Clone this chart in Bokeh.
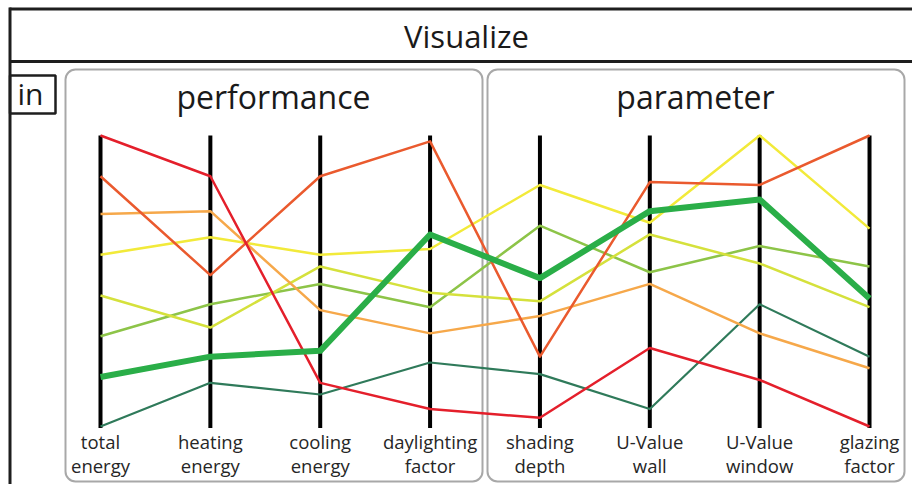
from bokeh.plotting import figure
from bokeh.models import Range1d
from bokeh.core.properties import value
from bokeh.embed import file_html
from bokeh.resources import INLINE

# ---------------- data ----------------
axis_line1 = ["total", "heating", "cooling", "daylighting", "shading", "U-Value", "U-Value", "glazing"]
axis_line2 = ["energy", "energy", "energy", "factor", "depth", "wall", "window", "factor"]
axis_index = [0, 1, 2, 3, 4, 5, 6, 7]

# normalised value (0 = bottom of axis, 100 = top of axis) per design variant
red = [100, 86, 15, 6, 3, 27, 16, 0]
orange_red = [86, 52, 86, 98, 24, 84, 83, 100]
orange = [73, 74, 40, 32, 38, 49, 32, 20]
yellow = [59, 65, 59, 61, 83, 70, 100, 68]
yellow_green = [45, 34, 55, 46, 43, 66, 56, 41]
light_green = [31, 42, 49, 41, 69, 53, 62, 55]
selected_green = [17, 24, 26, 66, 51, 74, 78, 44]
dark_teal = [0, 15, 11, 22, 18, 6, 42, 24]

series = [
    (dark_teal, "#2f7a5a", 2.2),
    (light_green, "#8dc448", 2.5),
    (yellow_green, "#d5e13c", 2.5),
    (yellow, "#f2ea3a", 2.5),
    (orange, "#f6a84a", 2.5),
    (orange_red, "#ea5a2e", 2.5),
    (red, "#e41f2b", 2.5),
    (selected_green, "#2aae48", 6),
]

# ---------------- layout (page pixel coordinates) ----------------
W, H = 912, 484
X0, Y0 = 0, 0
AX_X0, AX_DX = 100.0, 109.86       # first axis position and spacing
AX_BOT, AX_SCALE = 426.0, 2.91     # pixel y of value 0, pixels per unit

FONT = value("Open Sans")

p = figure(width=W, height=H, output_backend="svg", toolbar_location=None,
           x_range=Range1d(X0, X0 + W), y_range=Range1d(Y0 + H, Y0),
           min_border=0, background_fill_color="white", border_fill_color="white")
p.axis.visible = False
p.grid.visible = False
p.outline_line_color = None

p.extra_x_ranges = {"ax": Range1d((X0 - AX_X0) / AX_DX, (X0 + W - AX_X0) / AX_DX)}
p.extra_y_ranges = {"val": Range1d((AX_BOT - (Y0 + H)) / AX_SCALE, (AX_BOT - Y0) / AX_SCALE)}

# outer frame
p.segment(x0=[9, 9, 9.5], y0=[8.5, 61, 7], x1=[912, 912, 9.5], y1=[8.5, 61, 484],
          line_color="#1e1e1e", line_width=3)
p.text(x=[466], y=[35], text=["Visualize"], text_font=FONT, text_font_size="31px",
       text_align="center", text_baseline="alphabetic", text_color="#1a1a1a")

# "in" box
p.quad(left=[9.5], right=[55], top=[75], bottom=[113], fill_color=None,
       line_color="#1e1e1e", line_width=2.5)
p.text(x=[30], y=[93], text=["in"], text_font=FONT, text_font_size="30px",
       text_align="center", text_baseline="alphabetic", text_color="#1a1a1a")

# panels
p.quad(left=[65, 487], right=[482, 904], top=[69, 69], bottom=[481, 481],
       fill_color=None, line_color="#a8a8a8", line_width=2, border_radius=10)
p.text(x=[273, 695], y=[96, 96], text=["performance", "parameter"], text_font=FONT,
       text_font_size="32px", text_align="center", text_baseline="alphabetic",
       text_color="#1a1a1a")

# parallel axes
p.segment(x0=axis_index, y0=[-0.5] * 8, x1=axis_index, y1=[100] * 8,
          x_range_name="ax", y_range_name="val", line_color="#000000", line_width=4)

# polylines
for vals, col, lw in series:
    p.line(x=axis_index, y=vals, x_range_name="ax", y_range_name="val",
           line_color=col, line_width=lw, line_join="round")

# axis labels
p.text(x=axis_index, y=[441] * 8, text=axis_line1, x_range_name="ax", text_font=FONT,
       text_font_size="18.5px", text_align="center", text_baseline="alphabetic",
       text_color="#262626")
p.text(x=axis_index, y=[465] * 8, text=axis_line2, x_range_name="ax", text_font=FONT,
       text_font_size="18.5px", text_align="center", text_baseline="alphabetic",
       text_color="#262626")

open("out.html", "w").write(file_html(p, INLINE))
